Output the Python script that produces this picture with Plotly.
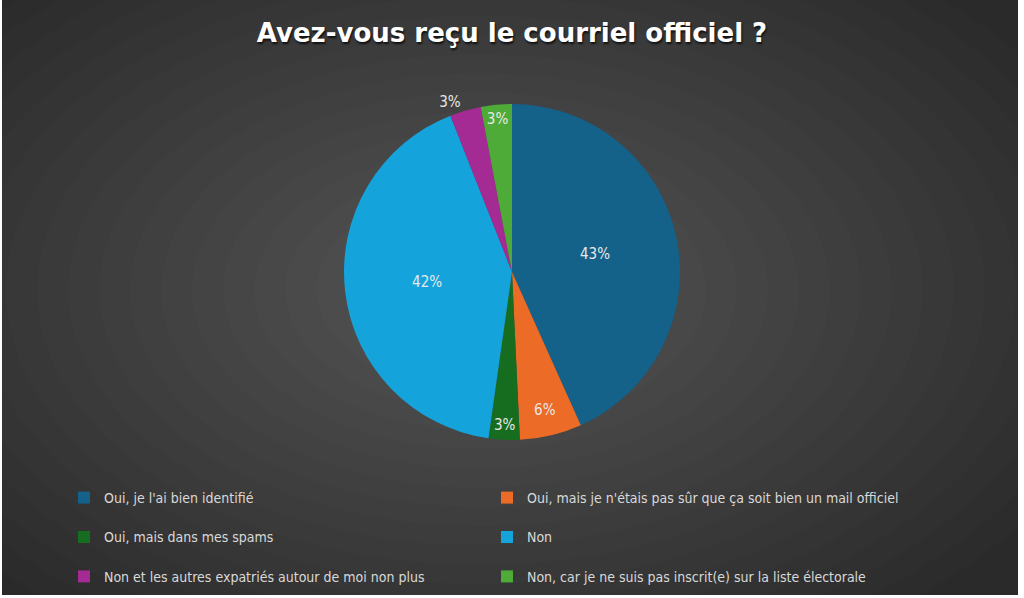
import plotly.graph_objects as go

# Réponses au sondage
categories = [
    "Oui, je l'ai bien identifié",
    "Oui, mais je n'étais pas sûr que ça soit bien un mail officiel",
    "Oui, mais dans mes spams",
    "Non",
    "Non et les autres expatriés autour de moi non plus",
    "Non, car je ne suis pas inscrit(e) sur la liste électorale",
]
counts = [29, 4, 2, 28, 2, 2]
colors = ["#14618a", "#ec6b27", "#176d1f", "#15a3dc", "#a52b94", "#4fab38"]
text_pos = ["inside", "inside", "inside", "inside", "outside", "inside"]

W, H = 1024, 598
FONT = "DejaVu Sans Condensed, Liberation Sans, sans-serif"

fig = go.Figure()
fig.add_trace(go.Pie(
    labels=[c + "<br> " for c in categories],  # blank 2nd line -> taller legend rows
    values=counts,
    sort=False,
    direction="clockwise",
    rotation=0,
    marker=dict(colors=colors, line=dict(width=0)),
    texttemplate="%{percent:.0%}",
    textposition=text_pos,
    insidetextorientation="horizontal",
    textfont=dict(family=FONT, size=15, color="#e8e8e8"),
    domain=dict(x=[0, 1], y=[(H - 440) / H, (H - 104) / H]),
    hoverinfo="label+percent",
))

# dark panel with a soft radial glow (stacked translucent ellipses)
shapes = [dict(type="rect", xref="paper", yref="paper", x0=2 / W, x1=1018 / W,
               y0=3 / H, y1=1, fillcolor="#2a2a2a", line=dict(width=0), layer="below")]
n = 20
for i in range(n):
    rx = 660 - i * 31
    ry = rx * 0.62
    cx, cy = 480, 290
    shapes.append(dict(type="circle", xref="paper", yref="paper",
                       x0=(cx - rx) / W, x1=(cx + rx) / W,
                       y0=(H - cy - ry) / H, y1=(H - cy + ry) / H,
                       fillcolor="rgba(255,255,255,0.0115)", line=dict(width=0),
                       layer="below"))
# mask the glow outside the panel
shapes += [
    dict(type="rect", xref="paper", yref="paper", x0=-0.5, x1=2 / W, y0=-0.5, y1=1.5,
         fillcolor="white", line=dict(width=0), layer="below"),
    dict(type="rect", xref="paper", yref="paper", x0=1018 / W, x1=1.5, y0=-0.5, y1=1.5,
         fillcolor="white", line=dict(width=0), layer="below"),
    dict(type="rect", xref="paper", yref="paper", x0=-0.5, x1=1.5, y0=-0.5, y1=3 / H,
         fillcolor="white", line=dict(width=0), layer="below"),
]

fig.update_layout(
    width=W, height=H,
    margin=dict(l=0, r=0, t=0, b=0, autoexpand=False),
    paper_bgcolor="white",
    plot_bgcolor="rgba(0,0,0,0)",
    shapes=shapes,
    title=dict(
        text="<b>Avez-vous reçu le courriel officiel ?</b>",
        x=0.5, xanchor="center", y=1 - 33 / H, yanchor="middle",
        font=dict(family="DejaVu Sans, Liberation Sans, sans-serif", size=26,
                  color="white", shadow="1px 2px 2px #111"),
    ),
    uniformtext=dict(minsize=15, mode="show"),
    showlegend=True,
    legend=dict(
        orientation="h",
        x=64 / W, xanchor="left",
        y=1 - 482 / H, yanchor="top",
        entrywidth=378, entrywidthmode="pixels",
        valign="top",
        font=dict(family=FONT, size=14, color="#d9d9d9"),
        bgcolor="rgba(0,0,0,0)",
        traceorder="normal",
    ),
)

fig.write_html("out.html", config={"displayModeBar": False},
               post_script="document.body.style.margin='0';")
